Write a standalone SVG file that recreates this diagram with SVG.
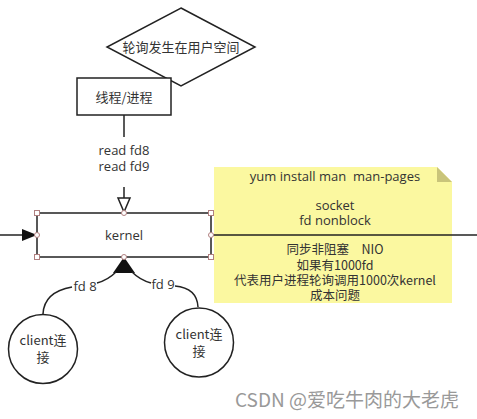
<svg xmlns="http://www.w3.org/2000/svg" width="477" height="419" viewBox="0 0 477 419">
<style>
text{font-family:"Open Sans","Noto Sans","Noto Sans CJK SC",sans-serif;font-size:13px;fill:#333;text-anchor:middle}
.cjk{font-family:"Noto Sans CJK SC","Open Sans",sans-serif}
.nt{font-size:12.5px}
.sh{fill:#fff;stroke:#222;stroke-width:1.5}
.ln{fill:none;stroke:#222;stroke-width:1.5}
.hd{fill:#fff;stroke:#b08080;stroke-width:1}
</style>
<rect width="477" height="419" fill="#fff"/>
<g id="note">
<polygon points="214,167 437,167 452,182 452,303 214,303" fill="#fbf8a0"/>
<polygon points="437,167 437,182 452,182" fill="#c9c47a"/>
<text x="335" y="181" xml:space="preserve">yum install man  man-pages</text>
<text x="335" y="210">socket</text>
<text x="335" y="225">fd nonblock</text>
<text class="cjk nt" x="335" y="254">同步非阻塞　NIO</text>
<text class="cjk nt" x="335" y="270">如果有1000fd</text>
<text class="cjk nt" x="335" y="285">代表用户进程轮询调用1000次kernel</text>
<text class="cjk nt" x="335" y="300">成本问题</text>
</g>
<g id="connectors">
<line class="ln" x1="124" y1="115" x2="124" y2="137"/>
<line class="ln" x1="124" y1="187" x2="124" y2="199"/>
<polygon points="118,198 130,198 124,212" fill="#fff" stroke="#222" stroke-width="1.5"/>
<line class="ln" x1="0" y1="235" x2="28" y2="235"/>
<polygon points="37,235 22,229 22,241" fill="#111"/>
<line class="ln" x1="211" y1="235" x2="477" y2="235"/>
<polygon points="124,257 113,273 135,273" fill="#111"/>
<path class="ln" d="M116,272 Q108,280 97,283"/>
<path class="ln" d="M72,287 Q44,292 43,314"/>
<path class="ln" d="M132,272 Q140,280 151,283"/>
<path class="ln" d="M175,286 Q197,288 198,307"/>
<text x="85" y="291">fd 8</text>
<text x="163" y="289">fd 9</text>
<text x="124" y="155">read fd8</text>
<text x="124" y="171">read fd9</text>
</g>
<g id="decision">
<polygon class="sh" points="181,8 255,47 181,86 107,47"/>
<text class="cjk" x="181" y="52">轮询发生在用户空间</text>
</g>
<g id="thread">
<rect class="sh" x="77" y="78" width="94" height="37"/>
<text class="cjk" x="124" y="102">线程/进程</text>
</g>
<g id="kernel">
<rect class="sh" x="37" y="213" width="174" height="44"/>
<text x="124" y="240">kernel</text>
<rect class="hd" x="34.5" y="210.5" width="5" height="5"/>
<rect class="hd" x="208.5" y="210.5" width="5" height="5"/>
<rect class="hd" x="34.5" y="254.5" width="5" height="5"/>
<rect class="hd" x="208.5" y="254.5" width="5" height="5"/>
<circle class="hd" cx="124" cy="213" r="2.5"/>
<circle class="hd" cx="124" cy="257" r="2.5"/>
<circle class="hd" cx="37" cy="235" r="2.5"/>
<circle class="hd" cx="211" cy="235" r="2.5"/>
</g>
<g id="client1">
<circle class="sh" cx="43" cy="349" r="34.5"/>
<text class="cjk" x="43" y="345">client连</text>
<text class="cjk" x="43" y="362">接</text>
</g>
<g id="client2">
<circle class="sh" cx="199" cy="342.5" r="34.5"/>
<text class="cjk" x="199" y="339">client连</text>
<text class="cjk" x="199" y="356">接</text>
</g>
<text class="cjk" x="347" y="407" style="font-size:19px;fill:#999">CSDN @爱吃牛肉的大老虎</text>
</svg>
